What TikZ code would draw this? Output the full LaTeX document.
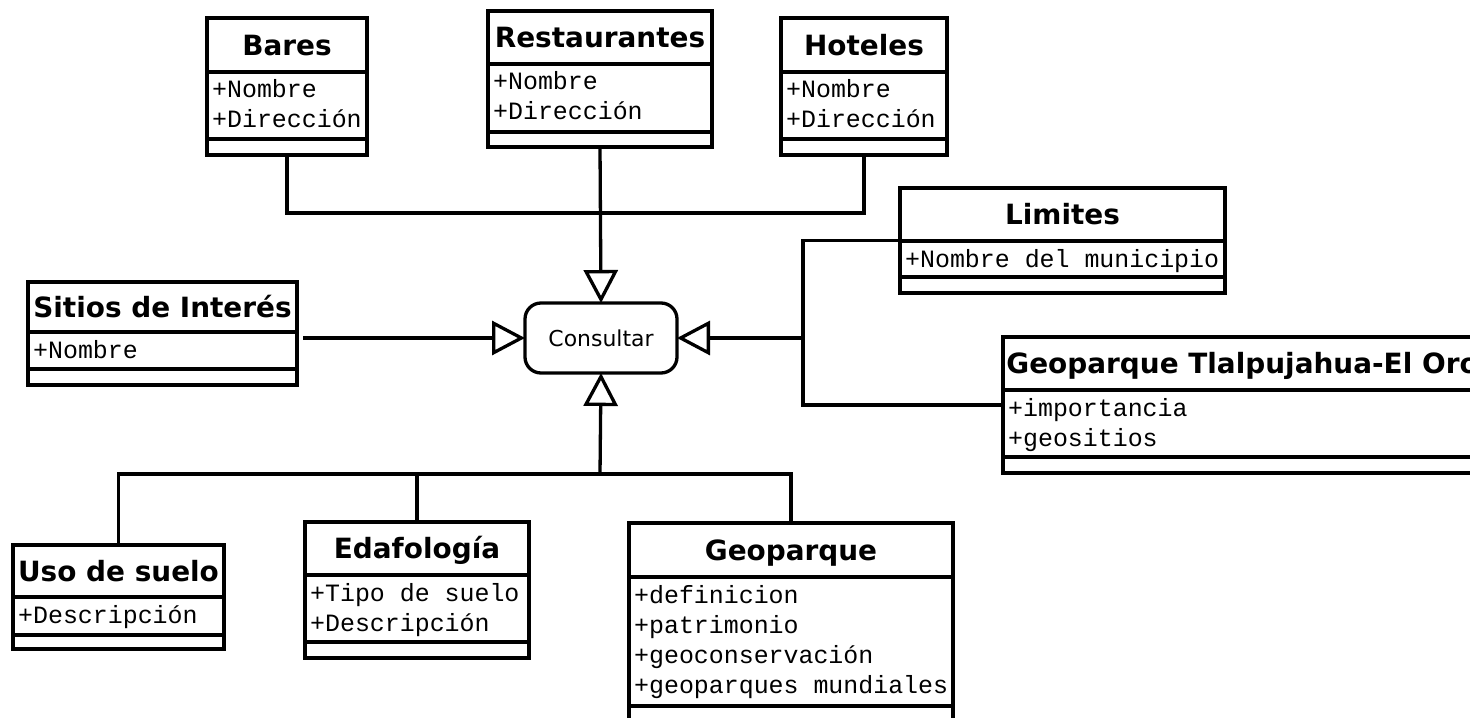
\documentclass[tikz,border=0pt]{standalone}
\usepackage{fontspec}
\usetikzlibrary{arrows.meta}

\newfontfamily\umltitlefont{DejaVu Sans}
\newfontfamily\umlattrfont{Liberation Mono}
\newfontfamily\umlopfont{DejaVu Sans}

\tikzset{
  ln/.style={line width=3.3bp},
  classbox/.style={draw, ln, inner sep=0pt, outer sep=0pt, anchor=north west, fill=white},
  classtitle/.style={inner sep=0pt, text height=20.4bp, text depth=0pt,
    font=\umltitlefont\bfseries\fontsize{28}{33}\selectfont},
  classattr/.style={inner sep=0pt, anchor=base west,
    font=\umlattrfont\fontsize{25}{30}\selectfont},
  opbox/.style={draw, ln, rounded corners=16bp, minimum width=152bp, minimum height=70bp,
    inner sep=0pt, outer sep=0pt, fill=white, font=\umlopfont\fontsize{22}{26}\selectfont},
  conn/.style={ln, line join=miter},
  gen/.style={conn, -{Triangle[open, length=33bp, width=34bp]}},
}

% UML class: name, left, top, right, bottom, title divider, attribute divider, title, attributes
\newcommand\umlclass[9]{%
  \node[classbox, minimum width={(#4-#2)*1bp}, minimum height={(#5-#3)*1bp}] (#1) at (#2,#3) {};
  \draw[ln] (#2,#6) -- (#4,#6);
  \draw[ln] (#2,#7) -- (#4,#7);
  \node[classtitle] (#1-title) at ({(#2+#4)/2},{(#3+#6)/2}) {#8};
  \foreach \attr [count=\k] in {#9}
    \node[classattr] (#1-attr\k) at ({#2+5},{#6+26+30*(\k-1)}) {\attr};
}

\begin{document}
\begin{tikzpicture}[x=1bp, y=-1bp]
  \useasboundingbox (0,0) rectangle (1470,718);
  \fill[white] (0,0) rectangle (1470,718);
  \clip (0,0) rectangle (1470,718);

  % classes
  \umlclass{bares}{207}{18}{367}{155}{72}{139}{Bares}{+Nombre,+Dirección}
  \umlclass{restaurantes}{488}{11}{712}{147}{64}{132}{Restaurantes}{+Nombre,+Dirección}
  \umlclass{hoteles}{781}{18}{947}{155}{72}{139}{Hoteles}{+Nombre,+Dirección}
  \umlclass{limites}{900}{188}{1225}{293}{241}{277}{Limites}{+Nombre del municipio}
  \umlclass{sitios}{28}{282}{297}{385}{332}{369}{Sitios de Interés}{+Nombre}
  \umlclass{geote}{1003}{337}{1482}{473}{390}{457}{Geoparque Tlalpujahua-El Oro}{+importancia,+geositios}
  \umlclass{uso}{13}{545}{224}{649}{597}{635}{Uso de suelo}{+Descripción}
  \umlclass{edafologia}{305}{522}{529}{658}{575}{642}{Edafología}{+Tipo de suelo,+Descripción}
  \umlclass{geoparque}{629}{523}{953}{724}{577}{706}{Geoparque}{+definicion,+patrimonio,+geoconservación,+geoparques mundiales}

  % central operation
  \node[opbox] (consultar) at (601,338) {Consultar};

  % upper group
  \coordinate (jtop) at (600,213);
  \draw[conn] (bares.south) |- (hoteles.south |- jtop) -- (hoteles.south);
  \draw[gen] (restaurantes.south) -- (consultar.north);

  % left
  \draw[gen] ([xshift=6bp]sitios.east |- consultar.west) -- (consultar.west);

  % right group
  \coordinate (jright) at (803,338);
  \draw[conn] (limites.west) -| (jright) |- (geote.west);
  \draw[gen] (jright) -- (consultar.east);

  % lower group
  \coordinate (jbottom) at (600,474);
  \draw[gen] (jbottom) -- (consultar.south);
  \draw[conn] (uso.north) |- (geoparque.north |- jbottom) -- (geoparque.north);
  \draw[conn] (edafologia.north) -- (edafologia.north |- jbottom);
\end{tikzpicture}
\end{document}
